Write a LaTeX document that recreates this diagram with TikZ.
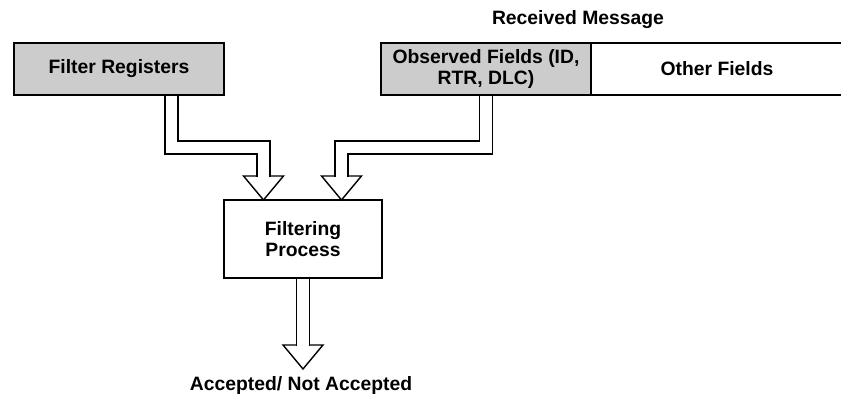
\documentclass[tikz,border=0pt]{standalone}
\usepackage{fontspec}
\setmainfont{Liberation Sans}
\usetikzlibrary{positioning}
\usetikzlibrary{calc}
\tikzset{
    regbox/.style = {rectangle, draw=black, line width=0.8pt, outer sep=0pt, inner sep=0pt, fill=black!20, minimum width=4.2cm, minimum height=1.04cm, align=center},
    fieldbox/.style = {regbox, fill=white, minimum width=5.04cm},
    procbox/.style = {rectangle, draw=black, line width=0.8pt, outer sep=0pt, minimum width=3.16cm, minimum height=1.56cm, align=center},
    shaft/.style = {draw=black, line width=0.8pt, double=white, double distance=0.23cm, shorten <=0.4pt, shorten >=-0.4pt},
    hhead/.style = {draw=black, line width=0.8pt, fill=white, line join=miter},
    every node/.style = {font=\fontsize{11}{12}\selectfont\bfseries}
}
\newcommand{\HHead}[1]{\draw[hhead] ($(#1)+(-0.4,0.48)$) -- ($(#1)+(0.4,0.48)$) -- (#1) -- cycle;}

\begin{document}
\begin{tikzpicture}
\useasboundingbox (0,0) rectangle (16.82,8.12);
\node[regbox] at (2.38,6.74) (fr) {Filter Registers};
\node[regbox] at (9.72,6.74) (obs) {Observed Fields (ID,\\ RTR, DLC)};
\node[fieldbox, right=0pt of obs] (oth) {Other Fields};
\node at (11.56,7.72) (msg) {Received Message};
\node[procbox] at (6.06,3.34) (fp) {Filtering\\ Process};
\node at (6.02,0.40) (res) {Accepted/ Not Accepted};
%
\coordinate (l1) at (3.43,5.17);
\coordinate (l2) at (5.27,5.17);
\coordinate (r1) at (obs.south |- l1);
\coordinate (r2) at (6.83,5.17);
\coordinate (lt) at (l2 |- fp.north);
\coordinate (rt) at (r2 |- fp.north);
\coordinate (bt) at (6.06,0.74);
%
\HHead{lt}
\HHead{rt}
\HHead{bt}
\draw[shaft] (l1 |- fr.south) -- (l1) -- (l2) -- ($(lt)+(0,0.48)$);
\draw[shaft] (obs.south) -- (r1) -- (r2) -- ($(rt)+(0,0.48)$);
\draw[shaft] (fp.south) -- ($(bt)+(0,0.48)$);

\end{tikzpicture}
\end{document}
